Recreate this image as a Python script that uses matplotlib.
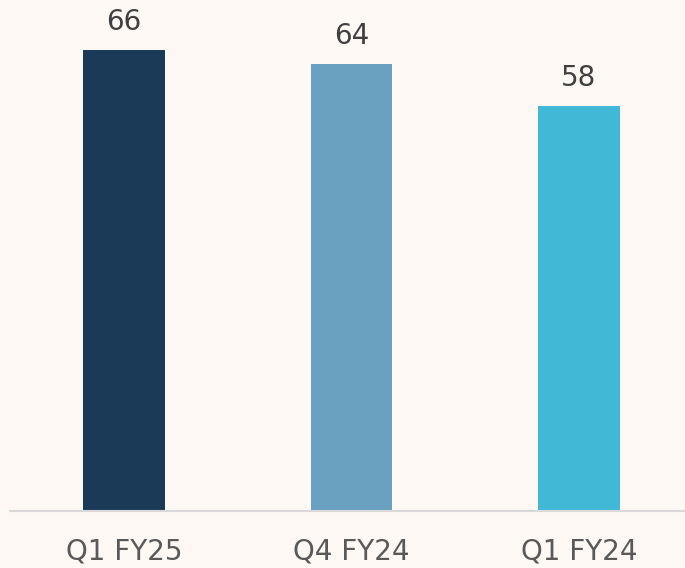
import matplotlib

matplotlib.use("Agg")
import matplotlib.pyplot as plt

# data
quarters = ["Q1 FY25", "Q4 FY24", "Q1 FY24"]
values = [66, 64, 58]
bar_colors = ["#1B3A57", "#6AA1C0", "#40B8D6"]

BG = "#FDF8F3"

fig = plt.figure(figsize=(6.85, 5.68), dpi=100, facecolor=BG)
ax = fig.add_axes([10 / 685, 57 / 568, 675 / 685, 502.6 / 568])
ax.set_facecolor(BG)

x = range(len(quarters))
bars = ax.bar(x, values, width=0.36, color=bar_colors, zorder=2)

for rect, v in zip(bars, values):
    ax.annotate(
        f"{v}",
        (rect.get_x() + rect.get_width() / 2, rect.get_height()),
        xytext=(0, 10), textcoords="offset points",
        ha="center", va="bottom", fontsize=20, color="#404040",
    )

ax.set_xlim(-0.501, 2.466)
ax.set_ylim(0, 72)
ax.set_xticks(list(x))
ax.set_xticklabels(quarters, fontsize=20, color="#595959")
ax.tick_params(axis="x", length=0, pad=19)
ax.set_yticks([])

for side in ("top", "right", "left"):
    ax.spines[side].set_visible(False)
ax.spines["bottom"].set_color("#D9D9D9")
ax.spines["bottom"].set_linewidth(1.5)
ax.spines["bottom"].set_zorder(3)

fig.savefig("out.png", dpi=100, facecolor=BG)
